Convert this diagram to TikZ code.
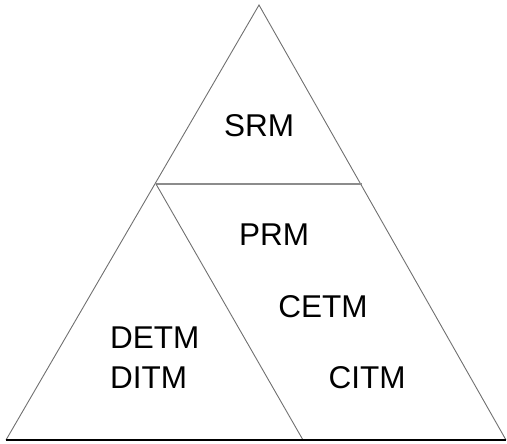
\documentclass[tikz,border=0pt]{standalone}
\usepackage{fontspec}
\setmainfont{Liberation Sans}
\usepackage{tikz}
\usetikzlibrary{positioning, calc}
\definecolor{SideGray}{HTML}{707070}
\definecolor{BandGray}{HTML}{8C8C8C}

\tikzset{
  side/.style={draw=SideGray, line width=0.9pt},
  band/.style={draw=BandGray, line width=1.6pt},
  base/.style={draw=black, line width=1.5pt},
  lbl/.style={inner sep=0pt, font=\fontsize{31.5}{40}\selectfont}
}

\begin{document}
\begin{tikzpicture}[x=1pt, y=-1pt]
        \useasboundingbox (0,0) rectangle (507,444);
        % Pyramid corners
        \coordinate (top) at (259,5);
        \coordinate (bl) at (6,440);
        \coordinate (br) at (506,440);
        \coordinate (ml) at (156,184);
        \coordinate (mr) at (362,184);
        \coordinate (bm) at (303,440);

        \draw[side] (bl) -- (top) -- (br);
        \draw[band] (ml) -- (mr);
        \draw[side] (ml) -- (bm);
        \draw[base] (bl) -- (br);

        % Levels
        \node[lbl] (srm) at (259,126) {SRM};
        \node[lbl] (prm) at (274,235) {PRM};
        \node[lbl] (cetm) at (323,307) {CETM};
        \node[lbl] (citm) at (367,378) {CITM};
        \node[lbl, anchor=west, align=left] (dtm) at (110,358) {DETM\\DITM};
    \end{tikzpicture}
\end{document}
